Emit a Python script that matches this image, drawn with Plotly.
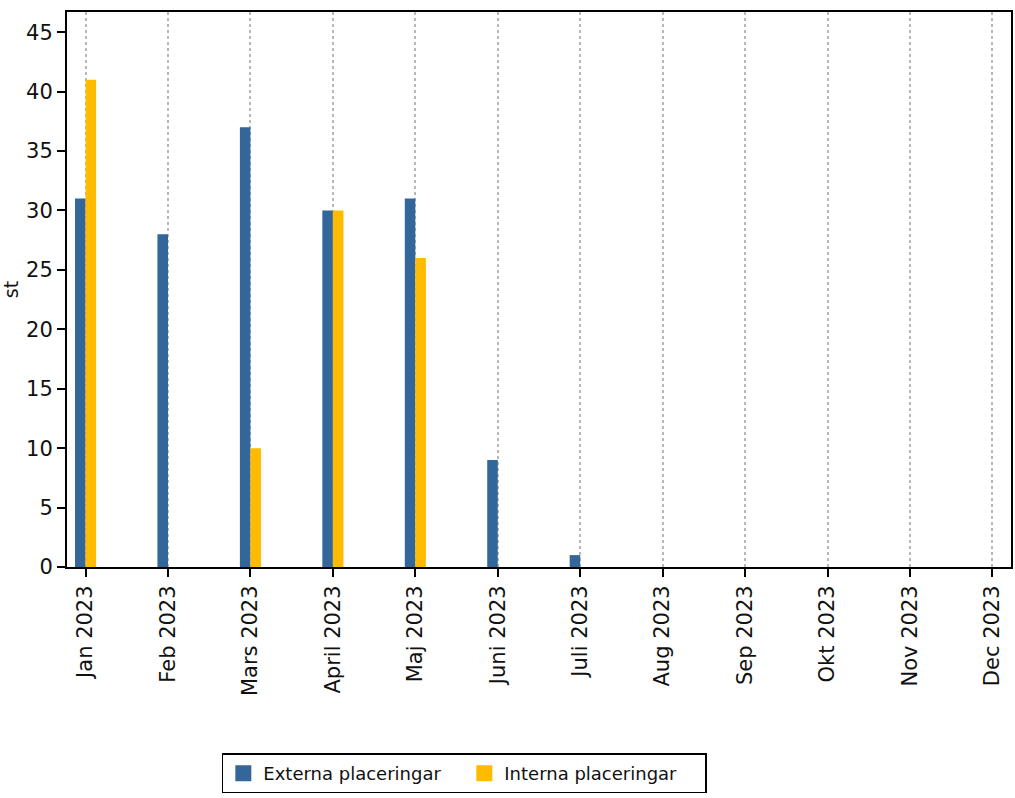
import plotly.graph_objects as go

months = ["Jan 2023", "Feb 2023", "Mars 2023", "April 2023", "Maj 2023", "Juni 2023",
          "Juli 2023", "Aug 2023", "Sep 2023", "Okt 2023", "Nov 2023", "Dec 2023"]
externa = [31, 28, 37, 30, 31, 9, 1, 0, 0, 0, 0, 0]
interna = [41, 0, 10, 30, 26, 0, 0, 0, 0, 0, 0, 0]
series_names = ["Externa placeringar", "Interna placeringar"]

BLUE = "#336699"
YELLOW = "#FFBB00"
W = 0.128

fig = go.Figure()
fig.add_trace(go.Bar(x=months, y=externa, name=series_names[0], showlegend=False,
                     marker=dict(color=BLUE, line=dict(width=0)),
                     width=W, offset=-W))
fig.add_trace(go.Bar(x=months, y=interna, name=series_names[1], showlegend=False,
                     marker=dict(color=YELLOW, line=dict(width=0)),
                     width=W, offset=0))
# legend entries with larger square symbols
for nm, col in zip(series_names, [BLUE, YELLOW]):
    fig.add_trace(go.Scatter(x=[None], y=[None], mode="markers", name=nm,
                             marker=dict(symbol="square", size=17, color=col)))

fig.update_layout(
    width=1015, height=798,
    margin=dict(l=67, r=4, t=12, b=228),
    paper_bgcolor="white", plot_bgcolor="white",
    font=dict(family="DejaVu Sans", size=21, color="#111111"),
    barmode="overlay",
    showlegend=True,
    legend=dict(orientation="h", x=0.164, xanchor="left", y=-0.336, yanchor="top",
                bordercolor="black", borderwidth=1.5, font=dict(size=18),
                itemwidth=30, tracegroupgap=0, entrywidth=196),
    xaxis=dict(type="category", range=[-0.225, 11.225], tickangle=-90, automargin=False,
               showgrid=True, gridcolor="#b8b8b8", griddash="dot", gridwidth=1.5,
               showline=True, linecolor="black", linewidth=2, mirror=True,
               ticks="outside", ticklen=8, tickcolor="black", tickwidth=1.5,
               tickfont=dict(size=21)),
    yaxis=dict(range=[0, 46.7], tickvals=[0, 5, 10, 15, 20, 25, 30, 35, 40, 45],
               showgrid=False, zeroline=False, automargin=False,
               showline=True, linecolor="black", linewidth=2, mirror=True,
               ticks="outside", ticklen=8, tickcolor="black", tickwidth=1.5,
               tickfont=dict(size=21),
               title=dict(text="st", font=dict(size=19), standoff=6)),
)

fig.write_html("out.html", config={"displayModeBar": False},
               post_script="document.body.style.margin='0px';document.body.style.overflow='hidden';")
